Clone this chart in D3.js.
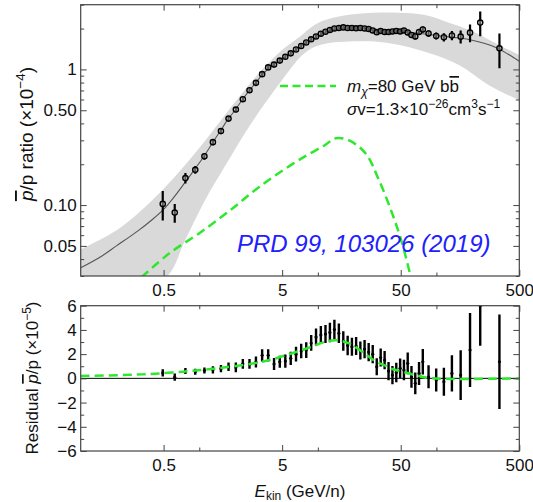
<!DOCTYPE html>
<html><head><meta charset="utf-8">
<script src="https://cdn.jsdelivr.net/npm/d3@7"></script>
<style>body{margin:0;background:#fff} svg{display:block} text{font-family:"Liberation Sans",Arial,sans-serif}</style>
</head><body><svg id="c" width="533" height="502"></svg>
<script>
// ---- data ----
const energy=[0.492,0.621,0.764,0.925,1.105,1.303,1.523,1.765,2.034,2.330,2.652,3.005,3.390,3.811,4.272,4.775,5.318,5.907,6.546,7.236,7.982,8.787,9.654,10.60,11.60,12.64,13.79,15.04,16.39,17.84,19.38,21.03,22.83,24.78,26.83,29.03,31.38,33.88,36.57,39.47,42.57,45.87,49.42,53.22,57.27,61.62,66.32,71.37,76.77,85.82,99.57,115.6,135.1,160.1,192.1,234.1,340.0];
const ratio=[0.102,0.088,0.158,0.182,0.229,0.291,0.351,0.434,0.506,0.603,0.703,0.796,0.923,1.035,1.085,1.162,1.240,1.314,1.402,1.488,1.579,1.668,1.750,1.833,1.896,1.955,2.005,2.020,2.040,2.020,2.020,2.010,2.020,2.005,1.988,1.938,1.880,1.921,1.889,1.889,1.905,1.921,1.905,1.938,1.873,1.795,1.750,1.889,1.971,1.842,1.765,1.726,1.780,1.744,1.867,2.214,1.431];
const ratioErr=[0.025,0.014,0.014,0.012,0.013,0.015,0.017,0.020,0.022,0.026,0.030,0.033,0.037,0.040,0.042,0.045,0.047,0.050,0.052,0.055,0.058,0.060,0.063,0.066,0.068,0.070,0.072,0.072,0.073,0.072,0.072,0.072,0.073,0.073,0.073,0.072,0.072,0.073,0.073,0.074,0.076,0.078,0.080,0.083,0.085,0.085,0.088,0.092,0.098,0.100,0.105,0.120,0.140,0.190,0.280,0.460,0.410];
const residual=[0.45,0.1,0.6,0.55,0.65,0.7,0.8,0.95,0.9,1.2,1.2,1.35,1.9,1.9,1.18,1.37,1.43,1.65,2.0,2.26,2.34,2.92,3.41,3.58,3.66,3.79,4.03,3.72,3.08,2.71,2.61,2.67,2.30,2.42,2.17,2.0,0.96,1.72,1.51,0.6,0.27,0.48,0.83,0.69,1.24,0.13,-0.41,0.41,1.37,0.13,-0.14,-0.28,0.41,0.27,2.34,6.0,1.37];
const residualErr=[0.3,0.3,0.25,0.25,0.25,0.3,0.3,0.35,0.4,0.4,0.4,0.45,0.5,0.5,0.5,0.5,0.55,0.55,0.6,0.6,0.65,0.65,0.7,0.75,0.75,0.8,0.8,0.8,0.8,0.8,0.75,0.75,0.75,0.75,0.75,0.75,0.7,0.75,0.75,0.75,0.75,0.8,0.8,0.85,0.9,0.9,0.9,0.95,1.05,0.95,0.95,1.15,1.5,2.05,3.05,3.3,3.9];
// total model (background + DM)
const modelE=[0.1,0.15,0.2,0.3,0.4,0.5,0.6,0.75,0.9,1.1,1.3,1.5,1.75,2.0,2.3,2.65,3.0,3.4,3.8,4.3,5,6,7,8,10,12,15,20,30,50,70,100,150,200,300,400,500];
const modelV=[0.0345,0.042,0.05,0.064,0.078,0.093,0.112,0.145,0.18,0.23,0.29,0.35,0.43,0.50,0.595,0.70,0.80,0.91,1.01,1.10,1.20,1.33,1.45,1.57,1.76,1.90,2.00,2.03,1.98,1.91,1.85,1.78,1.71,1.64,1.48,1.30,1.15];
// uncertainty band
const bandHiE=[0.1,0.2141,0.4828,1.008,1.909,2.924,3.909,5.226,6.99,9.346,12.49,18.4,29.87,48.5,78.7,115.8,207,336,500];
const bandHiV=[0.0472,0.0679,0.1276,0.2657,0.5439,0.862,1.133,1.438,1.735,2.129,2.36,2.525,2.613,2.613,2.525,2.279,1.889,1.514,1.276];
const bandLoE=[0.1,0.52,0.754,1.11,1.635,2.409,3.348,4.306,5.759,7.405,9.346,12.49,18.4,32.9,48.5,86.6,154.9,277,500];
const bandLoV=[0.015,0.029,0.0544,0.1073,0.1914,0.3357,0.517,0.7026,0.988,1.276,1.463,1.566,1.607,1.593,1.514,1.32,1.076,0.765,0.592];
// DM contribution (top panel, x1e-4)
const dmE=[0.326,0.5636,1.008,1.802,3.221,6.138,8.485,11.34,14.22,18.4,25.43,32.9,42.57,51.67,60.78];
const dmV=[0.0294,0.0443,0.0623,0.0908,0.1366,0.2012,0.2386,0.275,0.3114,0.2995,0.2386,0.1514,0.0858,0.0514,0.0294];
// DM contribution (residual panel, x1e-5)
const dmResE=[0.1,0.2755,0.383,0.7261,1.4063,2.9,3.898,6.07,8.86,11.34,14.31,18.4,26.09,31.05,37.68,42.33,51.36,71.4,91.8,500];
const dmResV=[0.19,0.30,0.36,0.55,0.83,1.24,1.51,2.07,2.61,3.0,3.14,2.89,1.88,1.37,1.02,0.77,0.55,0.19,0.0,0.0];
// ticks
const xMajor=[0.5,5,50,500], xMajorLab=["0.5","5","50","500"], xMinor=[1,10,100];
const yTopMajor=[0.05,0.1,0.5,1], yTopLab=["0.05","0.10","0.50","1"];
const yTopMinor=[0.03,0.04,0.06,0.07,0.08,0.09,0.2,0.3,0.4,0.6,0.7,0.8,0.9,2,3];
const yBotMajor=[-6,-4,-2,0,2,4,6], yBotLab=["\u22126","\u22124","\u22122","0","2","4","6"];
const yBotMinor=[-5,-3,-1,1,3,5];

// ---- drawing ----
const svg=d3.select("#c");
const L=80.7,R=519.3,T1=4.7,B1=276,T2=305.7,B2=451;
const x=d3.scaleLog().domain([0.1,500]).range([L,R]);
const yT=d3.scaleLog().domain([0.03,3]).range([B1,T1]);
const yB=d3.scaleLinear().domain([-6,6]).range([B2,T2]);
const FR="#444", GREEN="#2ee82e";

const defs=svg.append("defs");
defs.append("clipPath").attr("id","cpT").append("rect").attr("x",L).attr("y",T1).attr("width",R-L).attr("height",B1-T1);
defs.append("clipPath").attr("id","cpB").append("rect").attr("x",L).attr("y",T2).attr("width",R-L).attr("height",B2-T2);

// top panel
const gT=svg.append("g").attr("clip-path","url(#cpT)");
const lineT=d3.line().x(d=>x(d[0])).y(d=>yT(d[1])).curve(d3.curveCatmullRom);
const up=bandHiE.map((e,i)=>[e,bandHiV[i]]);
const lo=bandLoE.map((e,i)=>[e,bandLoV[i]]).reverse();
gT.append("path").attr("d",lineT(up)+"L"+lineT(lo).slice(1)+"Z").attr("fill","#d9d9d9").attr("stroke","none");
gT.append("path").attr("d",lineT(modelE.map((e,i)=>[e,modelV[i]]))).attr("fill","none").attr("stroke","#555").attr("stroke-width",1.1);
gT.append("path").attr("d",lineT(dmE.map((e,i)=>[e,dmV[i]]))).attr("fill","none").attr("stroke",GREEN).attr("stroke-width",2.5).attr("stroke-dasharray","9,5");
const ptsT=energy.map((e,i)=>({e,v:ratio[i],s:ratioErr[i]}));
gT.selectAll("line.eb").data(ptsT).join("line").attr("class","eb")
  .attr("x1",d=>x(d.e)).attr("x2",d=>x(d.e)).attr("y1",d=>yT(d.v+d.s)).attr("y2",d=>yT(d.v-d.s))
  .attr("stroke","#000").attr("stroke-width",2.2);
gT.selectAll("circle").data(ptsT).join("circle").attr("cx",d=>x(d.e)).attr("cy",d=>yT(d.v)).attr("r",2.6)
  .attr("fill","#fff").attr("fill-opacity",0.35).attr("stroke","#000").attr("stroke-width",1.4);

// bottom panel
const gB=svg.append("g").attr("clip-path","url(#cpB)");
gB.append("line").attr("x1",L).attr("x2",R).attr("y1",yB(0)).attr("y2",yB(0)).attr("stroke","#000").attr("stroke-width",1);
const ptsB=energy.map((e,i)=>({e,v:residual[i],s:residualErr[i]}));
gB.selectAll("line.eb").data(ptsB).join("line").attr("class","eb")
  .attr("x1",d=>x(d.e)).attr("x2",d=>x(d.e)).attr("y1",d=>yB(d.v+d.s)).attr("y2",d=>yB(d.v-d.s))
  .attr("stroke","#000").attr("stroke-width",2.4);
gB.selectAll("circle").data(ptsB).join("circle").attr("cx",d=>x(d.e)).attr("cy",d=>yB(d.v)).attr("r",1.6).attr("fill","#000");
const lineB=d3.line().x(d=>x(d[0])).y(d=>yB(d[1])).curve(d3.curveCatmullRom);
gB.append("path").attr("d",lineB(dmResE.map((e,i)=>[e,dmResV[i]]))).attr("fill","none").attr("stroke",GREEN).attr("stroke-width",2.5).attr("stroke-dasharray","9,5");

// frames and axes
function style(g,labels){
  g.select(".domain").remove();
  g.selectAll("line").attr("stroke",FR).attr("stroke-width",1);
  g.attr("font-size",17).attr("font-family","Liberation Sans, Arial, sans-serif");
  g.selectAll("text").attr("fill","#111");
  if(!labels) g.selectAll("text").remove();
}
function panel(y,top,bottom,maj,majLab,minr){
  svg.append("rect").attr("x",L).attr("y",top).attr("width",R-L).attr("height",bottom-top).attr("fill","none").attr("stroke",FR).attr("stroke-width",1.2);
  style(svg.append("g").attr("transform",`translate(0,${bottom})`).call(d3.axisBottom(x).tickValues(xMajor).tickFormat((d,i)=>xMajorLab[i]).tickSize(-6).tickPadding(8)),true);
  style(svg.append("g").attr("transform",`translate(0,${bottom})`).call(d3.axisBottom(x).tickValues(xMinor).tickSize(-3.5)),false);
  style(svg.append("g").attr("transform",`translate(0,${top})`).call(d3.axisTop(x).tickValues(xMajor).tickSize(-6)),false);
  style(svg.append("g").attr("transform",`translate(0,${top})`).call(d3.axisTop(x).tickValues(xMinor).tickSize(-3.5)),false);
  style(svg.append("g").attr("transform",`translate(${L},0)`).call(d3.axisLeft(y).tickValues(maj).tickFormat((d,i)=>majLab[i]).tickSize(-6).tickPadding(4)),true);
  style(svg.append("g").attr("transform",`translate(${L},0)`).call(d3.axisLeft(y).tickValues(minr).tickSize(-3.5)),false);
  style(svg.append("g").attr("transform",`translate(${R},0)`).call(d3.axisRight(y).tickValues(maj).tickSize(-6)),false);
  style(svg.append("g").attr("transform",`translate(${R},0)`).call(d3.axisRight(y).tickValues(minr).tickSize(-3.5)),false);
}
panel(yT,T1,B1,yTopMajor,yTopLab,yTopMinor);
panel(yB,T2,B2,yBotMajor,yBotLab,yBotMinor);

// axis titles
const t1=svg.append("text").attr("transform","translate(33,134) rotate(-90)").attr("text-anchor","middle").attr("font-size",19).attr("fill","#111");
t1.append("tspan").attr("font-style","italic").attr("text-decoration","overline").text("p");
t1.append("tspan").text("/p ratio (\u00d710");
t1.append("tspan").attr("font-size",13.5).attr("dy",-8).text("\u22124");
t1.append("tspan").attr("dy",8).text(")");
const t2=svg.append("text").attr("transform","translate(38,378) rotate(-90)").attr("text-anchor","middle").attr("font-size",17).attr("fill","#111");
t2.append("tspan").text("Residual ");
t2.append("tspan").attr("font-style","italic").attr("text-decoration","overline").text("p");
t2.append("tspan").text("/p (\u00d710");
t2.append("tspan").attr("font-size",12).attr("dy",-7).text("\u22125");
t2.append("tspan").attr("dy",7).text(")");
const t3=svg.append("text").attr("x",300).attr("y",497).attr("text-anchor","middle").attr("font-size",17).attr("fill","#111");
t3.append("tspan").attr("font-style","italic").text("E");
t3.append("tspan").attr("font-size",12).attr("dy",3).text("kin");
t3.append("tspan").attr("dy",-3).text(" (GeV/n)");

// legend
svg.append("line").attr("x1",280).attr("x2",336).attr("y1",86).attr("y2",86).attr("stroke",GREEN).attr("stroke-width",2.5).attr("stroke-dasharray","8,4.5");
const l1=svg.append("text").attr("x",347).attr("y",92).attr("font-size",17).attr("fill","#111");
l1.append("tspan").attr("font-style","italic").text("m");
l1.append("tspan").attr("font-style","italic").attr("font-size",12).attr("dy",4).text("\u03c7");
l1.append("tspan").attr("dy",-4).text("=80 GeV b");
l1.append("tspan").attr("text-decoration","overline").text("b");
const l2=svg.append("text").attr("x",347).attr("y",115).attr("font-size",17).attr("fill","#111");
l2.append("tspan").attr("font-style","italic").text("\u03c3");
l2.append("tspan").text("v=1.3\u00d710");
l2.append("tspan").attr("font-size",12).attr("dy",-7).text("\u221226");
l2.append("tspan").attr("dy",7).text("cm");
l2.append("tspan").attr("font-size",12).attr("dy",-7).text("3");
l2.append("tspan").attr("dy",7).text("s");
l2.append("tspan").attr("font-size",12).attr("dy",-7).text("\u22121");

// reference label
svg.append("text").attr("x",237).attr("y",252).attr("font-size",24).attr("font-style","italic").attr("fill","#2020ff").text("PRD 99, 103026 (2019)");
</script></body></html>
